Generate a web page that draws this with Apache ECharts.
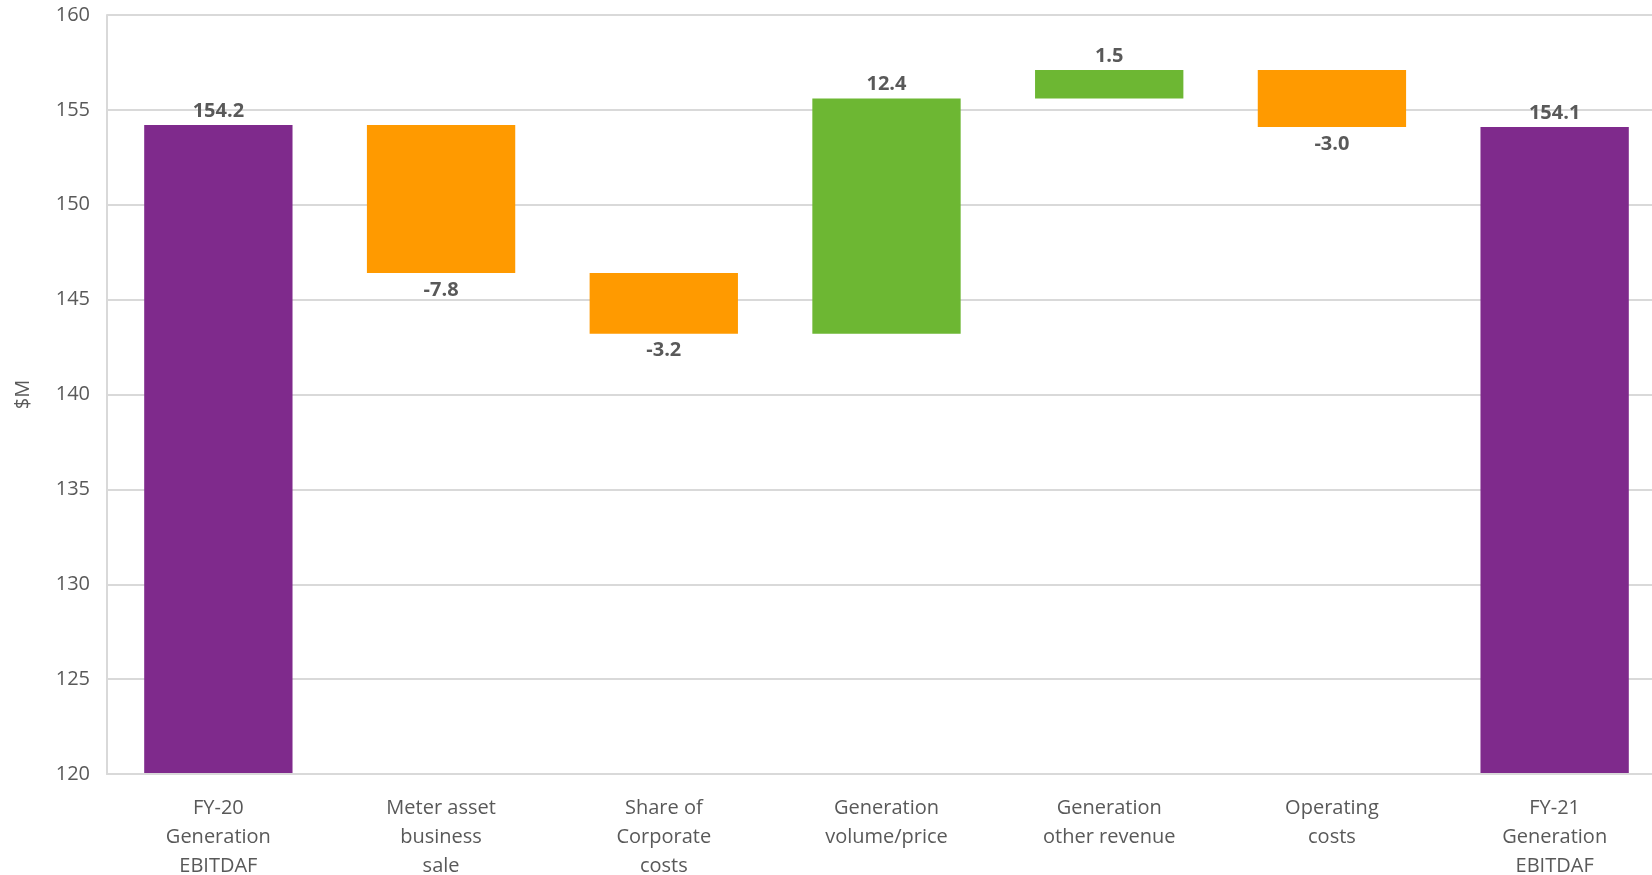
<!DOCTYPE html>
<html>
<head>
<meta charset="utf-8">
<script src="https://cdn.jsdelivr.net/npm/echarts@6/dist/echarts.min.js"></script>
<style>
html,body{margin:0;padding:0;background:#fff;}
#chart{width:1652px;height:875px;}
</style>
</head>
<body>
<div id="chart"></div>
<script>
const categories = ['FY-20\nGeneration\nEBITDAF', 'Meter asset\nbusiness\nsale', 'Share of\nCorporate\ncosts', 'Generation\nvolume/price', 'Generation\nother revenue', 'Operating\ncosts', 'FY-21\nGeneration\nEBITDAF'];
const values = [154.2, -7.8, -3.2, 12.4, 1.5, -3.0, 154.1];
const kinds = ['total', 'delta', 'delta', 'delta', 'delta', 'delta', 'total'];
const yTicks = { min: 120, max: 160, interval: 5 };

const colors = { total: '#7F2A8C', up: '#6DB733', down: '#FF9A00' };
const base = [], visible = [];
let running = 0;
for (let i = 0; i < values.length; i++) {
  const v = values[i];
  if (kinds[i] === 'total') {
    base.push(0);
    visible.push({ value: v, itemStyle: { color: colors.total }, label: { position: 'top' } });
    running = v;
  } else {
    const next = running + v;
    base.push(Math.min(running, next));
    visible.push({
      value: Math.abs(v),
      itemStyle: { color: v >= 0 ? colors.up : colors.down },
      label: v >= 0 ? { position: 'top', distance: 4 } : { position: 'bottom', distance: 7 }
    });
    running = next;
  }
}

const chart = echarts.init(document.getElementById('chart'));
const txt = '#595959';
const font = '"Open Sans", sans-serif';
chart.setOption({
  animation: false,
  backgroundColor: '#fff',
  grid: { left: 107, right: -14, top: 15, bottom: 101, containLabel: false, outerBoundsMode: 'none' },
  xAxis: {
    type: 'category',
    data: categories,
    z: 5,
    axisLine: { show: true, lineStyle: { color: '#d9d9d9', width: 2 } },
    axisTick: { show: false },
    axisLabel: { color: txt, fontFamily: font, fontSize: 20, lineHeight: 29, margin: 20, interval: 0 }
  },
  yAxis: {
    type: 'value',
    min: yTicks.min, max: yTicks.max, interval: yTicks.interval,
    name: '$M',
    nameLocation: 'middle',
    nameGap: 74,
    nameRotate: 90,
    nameTextStyle: { color: txt, fontFamily: font, fontSize: 20 },
    axisLine: { show: true, lineStyle: { color: '#d9d9d9', width: 2 } },
    axisTick: { show: false },
    splitLine: { show: true, lineStyle: { color: '#d9d9d9', width: 2 } },
    axisLabel: { color: txt, fontFamily: font, fontSize: 20, margin: 17 }
  },
  series: [
    {
      type: 'bar', stack: 'w', data: base, barCategoryGap: '33.4%',
      itemStyle: { color: 'transparent' }, silent: true, label: { show: false }
    },
    {
      type: 'bar', stack: 'w', data: visible, barCategoryGap: '33.4%',
      label: {
        show: true, color: txt, fontFamily: font, fontSize: 20, fontWeight: 'bold', distance: 4,
        formatter: p => values[p.dataIndex].toFixed(1)
      }
    }
  ]
});
</script>
</body>
</html>
